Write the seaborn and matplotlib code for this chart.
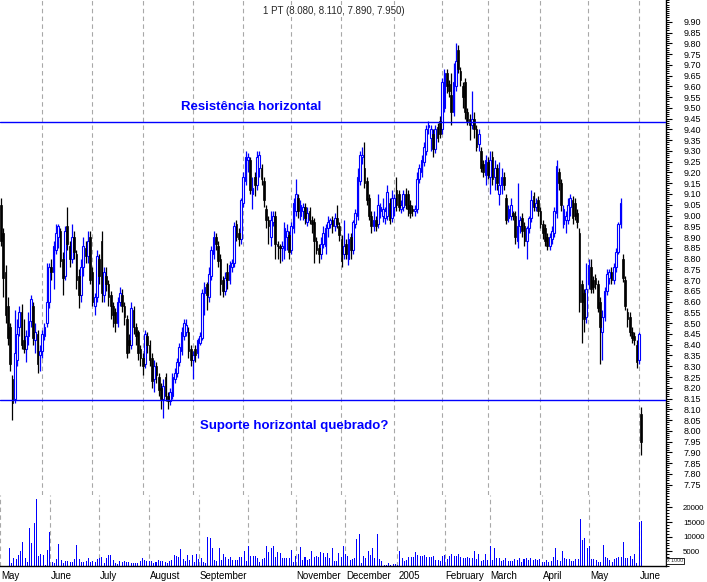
import numpy as np
import pandas as pd
import matplotlib
matplotlib.use("Agg")
import matplotlib.pyplot as plt
from matplotlib.ticker import FixedLocator, MultipleLocator, FormatStrFormatter
import seaborn as sns

# Daily candles, one value per trading day (May 2004 .. 1 June 2005)
opens = [
    9.05, 8.92, 8.74, 8.58, 8.48, 8.24, 8.15, 8.33, 8.48, 8.55, 8.42, 8.38, 8.44, 8.51, 8.58, 8.42, 8.45, 8.35, 8.37,  # May
    8.44, 8.50, 8.60, 8.76, 8.74, 8.84, 8.90, 8.93, 8.80, 8.72, 8.95, 8.86, 8.80, 8.90, 8.82, 8.72, 8.63, 8.76, 8.85, 8.81, 8.90, 8.74,  # Jun
    8.58, 8.62, 8.80, 8.88, 8.63, 8.72, 8.68, 8.63, 8.58, 8.55, 8.50, 8.60, 8.63, 8.58, 8.52, 8.42, 8.40, 8.56, 8.48, 8.46, 8.38, 8.34,  # Jul
    8.31, 8.44, 8.40, 8.34, 8.24, 8.30, 8.25, 8.20, 8.15, 8.25, 8.16, 8.14, 8.16, 8.24, 8.27, 8.32, 8.37, 8.44, 8.46, 8.46, 8.38, 8.33,  # Aug
    8.38, 8.36, 8.41, 8.43, 8.64, 8.68, 8.62, 8.72, 8.82, 8.90, 8.86, 8.80, 8.70, 8.65, 8.74, 8.70, 8.76, 8.78, 8.96, 8.92, 8.89, 9.06,  # Sep
    9.16, 9.26, 9.26, 9.10, 9.18, 9.14, 9.22, 9.22, 9.16, 9.03, 8.98, 8.90, 8.97, 9.00, 8.87, 8.86, 8.85, 8.84, 8.90, 8.91, 8.84,  # Oct
    8.94, 9.02, 9.08, 9.00, 9.02, 9.04, 8.97, 9.02, 8.98, 8.97, 8.88, 8.85, 8.82, 8.87, 8.86, 8.94, 8.96, 8.98, 8.95, 8.99, 8.95, 8.89,  # Nov
    8.82, 8.87, 8.80, 8.90, 8.84, 8.96, 9.00, 9.16, 9.27, 9.22, 9.16, 9.08, 9.00, 8.95, 8.98, 8.96, 9.02, 9.00, 8.99, 9.00, 9.06, 8.99, 9.04,  # Dec
    9.12, 9.10, 9.03, 9.04, 9.10, 9.10, 9.05, 9.03, 9.02, 9.03, 9.17, 9.20, 9.25, 9.30, 9.41, 9.36, 9.38, 9.31, 9.41, 9.44, 9.40,  # Jan
    9.50, 9.66, 9.61, 9.56, 9.48, 9.60, 9.77, 9.67, 9.60, 9.62, 9.48, 9.45, 9.42, 9.45, 9.40, 9.33, 9.30, 9.24, 9.19, 9.25,  # Feb
    9.18, 9.27, 9.18, 9.22, 9.10, 9.14, 9.18, 9.08, 8.99, 9.00, 9.01, 9.00, 8.88, 8.95, 8.99, 8.95, 8.88, 8.94, 8.99, 9.09, 9.04, 9.07, 9.02,  # Mar
    8.96, 8.94, 8.90, 8.86, 8.89, 8.92, 9.01, 9.20, 9.15, 8.96, 8.98, 8.98, 9.04, 9.07, 9.06, 9.01, 8.92, 8.68, 8.64, 8.53, 8.68,  # Apr
    8.76, 8.70, 8.71, 8.68, 8.60, 8.46, 8.53, 8.65, 8.71, 8.74, 8.70, 8.76, 8.83, 8.96, 8.80, 8.70, 8.55, 8.53, 8.46, 8.44, 8.40, 8.33,  # May
    8.08,  # Jun
]
highs = [
    9.08, 8.94, 8.77, 8.62, 8.50, 8.26, 8.56, 8.52, 8.58, 8.59, 8.52, 8.47, 8.55, 8.63, 8.60, 8.50, 8.47, 8.40, 8.47,
    8.50, 8.78, 8.78, 8.80, 8.88, 8.96, 8.96, 8.94, 8.83, 8.95, 9.04, 8.88, 8.96, 8.93, 8.84, 8.75, 8.80, 8.90, 8.88, 8.93, 8.93, 8.76,
    8.64, 8.84, 8.82, 8.93, 8.76, 8.76, 8.70, 8.65, 8.60, 8.57, 8.62, 8.67, 8.66, 8.60, 8.54, 8.45, 8.60, 8.58, 8.50, 8.47, 8.40, 8.36,
    8.47, 8.46, 8.42, 8.36, 8.33, 8.32, 8.27, 8.22, 8.24, 8.27, 8.18, 8.20, 8.27, 8.29, 8.34, 8.41, 8.48, 8.52, 8.52, 8.48, 8.40, 8.37,
    8.40, 8.43, 8.46, 8.66, 8.69, 8.69, 8.76, 8.86, 8.93, 8.92, 8.88, 8.82, 8.72, 8.74, 8.78, 8.79, 8.80, 8.97, 8.98, 8.94, 9.08, 9.20,
    9.30, 9.29, 9.27, 9.18, 9.20, 9.30, 9.30, 9.24, 9.18, 9.05, 9.00, 9.02, 9.02, 9.02, 8.88, 8.87, 8.88, 8.97, 8.96, 8.93, 8.97,
    9.08, 9.17, 9.10, 9.07, 9.06, 9.06, 9.04, 9.04, 9.00, 8.99, 8.90, 8.87, 8.90, 8.95, 8.96, 9.00, 8.99, 9.00, 9.01, 9.05, 8.97, 8.91,
    8.98, 8.89, 8.92, 8.92, 8.98, 9.03, 9.22, 9.30, 9.32, 9.34, 9.18, 9.10, 9.02, 9.02, 9.00, 9.10, 9.06, 9.08, 9.04, 9.14, 9.08, 9.12, 9.10,
    9.18, 9.12, 9.07, 9.12, 9.13, 9.12, 9.07, 9.05, 9.05, 9.20, 9.24, 9.28, 9.34, 9.42, 9.44, 9.42, 9.40, 9.42, 9.43, 9.46, 9.64,
    9.68, 9.68, 9.63, 9.66, 9.71, 9.80, 9.79, 9.69, 9.62, 9.64, 9.50, 9.47, 9.58, 9.48, 9.42, 9.40, 9.32, 9.26, 9.28, 9.27,
    9.30, 9.30, 9.26, 9.24, 9.25, 9.22, 9.20, 9.10, 9.05, 9.08, 9.02, 9.02, 9.15, 9.00, 9.01, 8.97, 8.95, 9.00, 9.12, 9.11, 9.08, 9.09, 9.04,
    8.98, 8.96, 8.92, 8.92, 8.95, 9.04, 9.26, 9.22, 9.17, 9.05, 9.02, 9.08, 9.10, 9.09, 9.08, 9.03, 8.94, 8.70, 8.66, 8.78, 8.80,
    8.80, 8.72, 8.73, 8.70, 8.62, 8.56, 8.67, 8.75, 8.75, 8.76, 8.78, 8.85, 8.97, 9.08, 8.82, 8.72, 8.57, 8.55, 8.48, 8.46, 8.42, 8.46,
    8.11,
]
lows = [
    8.86, 8.62, 8.50, 8.40, 8.28, 8.05, 8.13, 8.30, 8.44, 8.38, 8.36, 8.32, 8.40, 8.48, 8.40, 8.36, 8.27, 8.28, 8.34,
    8.42, 8.48, 8.57, 8.70, 8.66, 8.82, 8.85, 8.76, 8.63, 8.70, 8.84, 8.76, 8.78, 8.80, 8.66, 8.57, 8.60, 8.72, 8.78, 8.78, 8.68, 8.58,
    8.54, 8.60, 8.68, 8.60, 8.60, 8.65, 8.58, 8.52, 8.48, 8.46, 8.48, 8.58, 8.55, 8.49, 8.34, 8.36, 8.38, 8.45, 8.40, 8.33, 8.30, 8.26,
    8.29, 8.36, 8.30, 8.20, 8.18, 8.22, 8.16, 8.10, 8.06, 8.14, 8.10, 8.12, 8.15, 8.22, 8.25, 8.30, 8.35, 8.42, 8.44, 8.34, 8.30, 8.24,
    8.32, 8.34, 8.40, 8.42, 8.54, 8.56, 8.60, 8.70, 8.80, 8.84, 8.76, 8.63, 8.62, 8.63, 8.66, 8.68, 8.74, 8.76, 8.88, 8.86, 8.87, 9.04,
    9.14, 9.20, 9.10, 9.03, 9.09, 9.12, 9.18, 9.14, 9.04, 8.94, 8.87, 8.86, 8.95, 8.80, 8.80, 8.78, 8.79, 8.80, 8.84, 8.80, 8.82,
    8.92, 9.00, 8.99, 8.98, 8.98, 8.96, 8.95, 8.96, 8.92, 8.78, 8.82, 8.78, 8.80, 8.85, 8.82, 8.90, 8.94, 8.92, 8.93, 8.94, 8.88, 8.76,
    8.80, 8.80, 8.77, 8.80, 8.82, 8.94, 8.98, 9.14, 9.24, 9.13, 9.05, 8.98, 8.92, 8.93, 8.93, 8.94, 8.99, 8.97, 8.96, 8.98, 8.96, 8.97, 9.00,
    9.02, 9.02, 9.01, 9.02, 9.03, 9.00, 8.99, 9.00, 9.00, 9.01, 9.15, 9.18, 9.23, 9.28, 9.38, 9.30, 9.27, 9.29, 9.34, 9.36, 9.38,
    9.48, 9.57, 9.55, 9.42, 9.46, 9.58, 9.66, 9.60, 9.50, 9.45, 9.42, 9.35, 9.40, 9.36, 9.30, 9.30, 9.20, 9.18, 9.14, 9.17,
    9.10, 9.14, 9.12, 9.12, 9.05, 9.10, 9.12, 8.96, 8.97, 8.98, 8.98, 8.87, 8.85, 8.92, 8.90, 8.86, 8.80, 8.92, 8.97, 9.02, 9.02, 9.00, 8.94,
    8.89, 8.86, 8.84, 8.84, 8.87, 8.90, 8.99, 9.12, 9.02, 8.94, 8.92, 8.96, 9.00, 8.96, 8.98, 8.94, 8.55, 8.41, 8.46, 8.50, 8.66,
    8.64, 8.64, 8.66, 8.55, 8.31, 8.33, 8.51, 8.63, 8.68, 8.68, 8.68, 8.74, 8.82, 8.94, 8.69, 8.56, 8.48, 8.44, 8.41, 8.40, 8.29, 8.31,
    7.89,
]
closes = [
    8.88, 8.71, 8.54, 8.43, 8.31, 8.13, 8.36, 8.45, 8.55, 8.40, 8.38, 8.44, 8.51, 8.61, 8.43, 8.46, 8.31, 8.37, 8.45,
    8.48, 8.60, 8.76, 8.74, 8.86, 8.92, 8.95, 8.79, 8.71, 8.93, 8.87, 8.80, 8.90, 8.83, 8.70, 8.63, 8.76, 8.86, 8.81, 8.88, 8.70, 8.60,
    8.62, 8.81, 8.72, 8.64, 8.74, 8.68, 8.62, 8.58, 8.54, 8.50, 8.60, 8.64, 8.58, 8.53, 8.36, 8.40, 8.57, 8.48, 8.44, 8.36, 8.34, 8.30,
    8.45, 8.40, 8.33, 8.23, 8.30, 8.26, 8.19, 8.15, 8.21, 8.16, 8.14, 8.18, 8.25, 8.27, 8.32, 8.39, 8.46, 8.50, 8.49, 8.37, 8.33, 8.35,
    8.35, 8.42, 8.44, 8.64, 8.67, 8.63, 8.73, 8.84, 8.90, 8.87, 8.79, 8.68, 8.65, 8.71, 8.70, 8.77, 8.78, 8.95, 8.90, 8.89, 9.07, 9.18,
    9.27, 9.27, 9.12, 9.13, 9.14, 9.27, 9.28, 9.17, 9.07, 8.98, 8.95, 8.98, 9.00, 8.87, 8.86, 8.85, 8.86, 8.94, 8.93, 8.83, 8.95,
    9.06, 9.10, 9.02, 9.05, 9.04, 8.99, 9.01, 8.98, 8.96, 8.88, 8.84, 8.82, 8.87, 8.92, 8.94, 8.97, 8.98, 8.95, 8.99, 8.96, 8.91, 8.79,
    8.86, 8.82, 8.89, 8.84, 8.97, 9.01, 9.18, 9.28, 9.28, 9.15, 9.07, 9.00, 8.95, 8.98, 8.95, 9.05, 9.04, 9.03, 9.02, 9.11, 8.98, 9.08, 9.08,
    9.05, 9.04, 9.05, 9.10, 9.05, 9.03, 9.01, 9.02, 9.03, 9.17, 9.22, 9.26, 9.32, 9.40, 9.42, 9.40, 9.31, 9.40, 9.36, 9.38, 9.62,
    9.66, 9.60, 9.58, 9.48, 9.62, 9.72, 9.68, 9.63, 9.55, 9.48, 9.44, 9.42, 9.45, 9.40, 9.32, 9.38, 9.22, 9.20, 9.26, 9.19,
    9.26, 9.17, 9.22, 9.15, 9.14, 9.18, 9.14, 8.98, 9.03, 9.05, 9.00, 8.90, 8.95, 8.98, 8.93, 8.88, 8.94, 8.99, 9.07, 9.04, 9.06, 9.02, 8.96,
    8.92, 8.88, 8.86, 8.90, 8.93, 9.02, 9.23, 9.15, 9.05, 9.03, 9.00, 9.05, 9.08, 8.99, 9.00, 8.97, 8.60, 8.60, 8.52, 8.66, 8.77,
    8.66, 8.67, 8.68, 8.57, 8.48, 8.53, 8.65, 8.73, 8.74, 8.70, 8.76, 8.83, 8.96, 9.06, 8.71, 8.58, 8.52, 8.46, 8.43, 8.42, 8.32, 8.45,
    7.95,
]
# volume in thousands (axis is "x 1000")
volume_k = [
    6.0, 1.0, 2.6, 2.4, 3.8, 5.2, 8.3, 2.6, 1.2, 12.9, 7.7, 14.6, 22.8, 3.4, 4.1, 3.8, 0.5, 5.5, 11.7,
    1.5, 0.9, 2.4, 7.5, 2.0, 1.0, 1.7, 1.7, 1.5, 1.5, 2.3, 7.2, 2.4, 1.5, 1.5, 1.7, 2.6, 1.5, 1.8, 1.4, 2.3, 2.6,
    3.2, 1.1, 2.6, 3.8, 3.8, 2.0, 1.1, 0.8, 1.7, 1.4, 1.7, 1.5, 1.5, 1.1, 0.9, 1.1, 1.1, 1.8, 2.6, 2.0, 1.8, 1.7,
    1.7, 1.1, 1.5, 2.0, 1.8, 1.7, 1.5, 0.9, 1.8, 2.0, 3.8, 3.4, 3.2, 5.8, 2.4, 1.6, 3.8, 2.0, 3.8, 1.5, 4.1, 2.3,
    2.6, 1.5, 1.0, 9.8, 9.4, 6.3, 2.0, 1.6, 6.3, 2.0, 4.1, 3.2, 2.3, 3.2, 2.0, 2.0, 2.0, 3.2, 3.2, 5.1, 1.7, 6.8,
    3.4, 3.4, 3.4, 2.9, 1.5, 2.4, 2.9, 6.8, 4.9, 6.0, 6.8, 3.2, 4.9, 4.5, 2.9, 2.7, 2.7, 2.7, 5.5, 1.4, 3.5,
    4.1, 6.6, 2.0, 3.2, 2.0, 2.5, 5.1, 3.2, 3.4, 3.2, 4.9, 4.5, 3.2, 4.5, 2.6, 6.3, 1.8, 1.8, 4.5, 3.2, 6.8, 4.1,
    3.4, 2.0, 2.3, 2.6, 9.1, 10.9, 1.0, 3.4, 2.6, 5.2, 3.8, 6.0, 2.9, 10.9, 2.4, 1.7, 0.3, 0.2, 0.9, 0.4, 0.6, 0.6, 0.5,
    5.1, 2.9, 1.8, 2.0, 3.2, 3.2, 3.2, 4.9, 3.8, 3.4, 3.4, 3.8, 3.2, 3.2, 3.2, 3.4, 2.0, 2.0, 1.8, 3.4, 3.6,
    2.4, 3.4, 4.1, 3.4, 3.4, 4.1, 3.2, 2.8, 2.8, 3.2, 2.9, 2.9, 5.2, 2.4, 4.1, 1.7, 2.0, 4.1, 2.0, 6.8,
    2.0, 6.0, 2.8, 2.6, 1.8, 2.0, 2.8, 1.8, 1.8, 1.8, 2.5, 2.0, 2.9, 1.4, 2.3, 2.9, 2.0, 2.9, 2.0, 2.3, 2.0, 2.4, 1.5,
    1.5, 2.0, 1.5, 1.7, 3.2, 6.3, 2.0, 1.8, 5.2, 2.9, 2.5, 2.4, 1.8, 1.8, 2.3, 2.3, 15.9, 8.9, 9.4, 6.0, 6.8,
    2.3, 2.3, 2.0, 1.5, 1.5, 7.2, 3.2, 2.6, 2.0, 1.5, 2.3, 2.8, 3.2, 3.2, 8.3, 2.9, 2.6, 3.4, 2.4, 4.1, 1.1, 15.1,
    15.5,
]

last_day = "2005-06-01"
resistance = 9.434
support = 8.143
title = "1 PT (8.080, 8.110, 7.890, 7.950)"
price_ticks = np.round(np.arange(7.75, 9.901, 0.05), 2)
volume_ticks = [5000, 10000, 15000, 20000]
month_names = {1: None, 2: "February", 3: "March", 4: "April", 5: "May", 6: "June",
               7: "July", 8: "August", 9: "September", 10: "", 11: "November", 12: "December"}

BLUE = "#0000ff"
GRID = "#a8a8a8"

sns.set_theme(style="white")
plt.rcParams["font.family"] = ["Liberation Sans", "DejaVu Sans"]

o = np.array(opens)
h = np.array(highs)
l = np.array(lows)
c = np.array(closes)
vol = np.array(volume_k) * 1000
idx = np.arange(len(c))
up = c >= o
dates = pd.bdate_range(end=last_day, periods=len(c))

# month boundaries (in trading-day units) and weekly ticks
start = dates[0]
month_starts = pd.date_range(start.to_period("M").to_timestamp(), dates[-1], freq="MS")
month_pos = [np.busday_count(start.date(), m.date()) - 1.1 for m in month_starts]
monday_pos = idx[dates.dayofweek == 0] - 1.1

W, H = 707, 582
fig = plt.figure(figsize=(W / 100, H / 100), dpi=100)
fig.patch.set_facecolor("white")
ax = fig.add_axes([0, 1 - 495 / H, 666 / W, 495 / H])
axv = fig.add_axes([0, 1 - 566 / H, 666 / W, 71 / H])
xlim = (-0.44, 290.9)

# price panel
for p in month_pos:
    ax.axvline(p, color=GRID, ls=(0, (4, 3)), lw=0.8, zorder=0)
ax.vlines(idx[up], l[up], h[up], color=BLUE, lw=0.9, zorder=2)
ax.vlines(idx[~up], l[~up], h[~up], color="black", lw=0.9, zorder=2)
ax.bar(idx[up], np.maximum(c - o, 0.006)[up], bottom=o[up], width=0.75,
       facecolor="white", edgecolor=BLUE, linewidth=0.8, zorder=3)
ax.bar(idx[~up], np.maximum(o - c, 0.006)[~up], bottom=c[~up], width=0.75,
       facecolor="black", edgecolor="black", linewidth=0.5, zorder=3)
ax.axhline(resistance, color=BLUE, lw=1.0, zorder=5)
ax.axhline(support, color=BLUE, lw=1.0, zorder=5)
ax.text(78.7, 9.504, "Resistência horizontal", color=BLUE, fontsize=9.5,
        fontweight="bold", ha="left", va="center")
ax.text(87, 8.022, "Suporte horizontal quebrado?", color=BLUE, fontsize=9.5,
        fontweight="bold", ha="left", va="center")

ax.set_xlim(*xlim)
ax.set_ylim(7.702, 10.001)
ax.set_facecolor("white")
for s in ["top", "left", "bottom"]:
    ax.spines[s].set_visible(False)
ax.spines["right"].set_color("black")
ax.spines["right"].set_linewidth(1.0)
ax.yaxis.tick_right()
ax.yaxis.set_major_locator(FixedLocator(price_ticks))
ax.yaxis.set_major_formatter(FormatStrFormatter("%.2f"))
ax.yaxis.set_minor_locator(MultipleLocator(0.01))
ax.tick_params(axis="y", which="major", direction="out", length=4.3, width=0.8,
               pad=8.5, labelsize=6.5, colors="black")
ax.tick_params(axis="y", which="minor", direction="out", length=2.5, width=0.7, colors="black")
ax.tick_params(axis="x", bottom=False, labelbottom=False)

# volume panel
for p in month_pos:
    axv.axvline(p, color=GRID, ls=(0, (4, 3)), lw=0.8, zorder=0)
axv.bar(idx, vol, width=0.45, color=BLUE, linewidth=0, zorder=2)
axv.set_xlim(*xlim)
axv.set_ylim(0, 24230)
axv.set_facecolor("white")
for s in ["top", "left"]:
    axv.spines[s].set_visible(False)
for s in ["right", "bottom"]:
    axv.spines[s].set_color("black")
    axv.spines[s].set_linewidth(1.0)
axv.yaxis.tick_right()
axv.yaxis.set_major_locator(FixedLocator(volume_ticks))
axv.yaxis.set_major_formatter(FormatStrFormatter("%d"))
axv.yaxis.set_minor_locator(MultipleLocator(1000))
axv.tick_params(axis="y", which="major", direction="out", length=4.3, width=0.8,
                pad=8.0, labelsize=5.7, colors="black")
axv.tick_params(axis="y", which="minor", direction="out", length=2.5, width=0.7, colors="black")
axv.set_xticks(month_pos)
axv.set_xticks(monday_pos, minor=True)
axv.tick_params(axis="x", which="major", direction="out", length=12, width=0.8,
                labelbottom=False, colors="black")
axv.tick_params(axis="x", which="minor", direction="out", length=3, width=0.8, colors="black")

for m, p in zip(month_starts, month_pos):
    name = month_names[m.month]
    if name is None:
        name = str(m.year)
    if not name:
        continue
    axv.annotate(name, xy=(p, 0), xycoords=("data", "axes fraction"),
                 xytext=(0.6, -3.5), textcoords="offset points",
                 ha="left", va="top", fontsize=7, color="black", annotation_clip=False)

fig.text(334 / W, 1 - 11 / H, title, ha="center", va="center", fontsize=7,
         bbox=dict(facecolor="white", edgecolor="none", pad=1))
fig.text(667 / W, 1 - 561 / H, "x 1000", ha="left", va="center", fontsize=3.8,
         bbox=dict(facecolor="white", edgecolor="black", linewidth=0.6, pad=0.6))

fig.savefig("out.png", dpi=100)
